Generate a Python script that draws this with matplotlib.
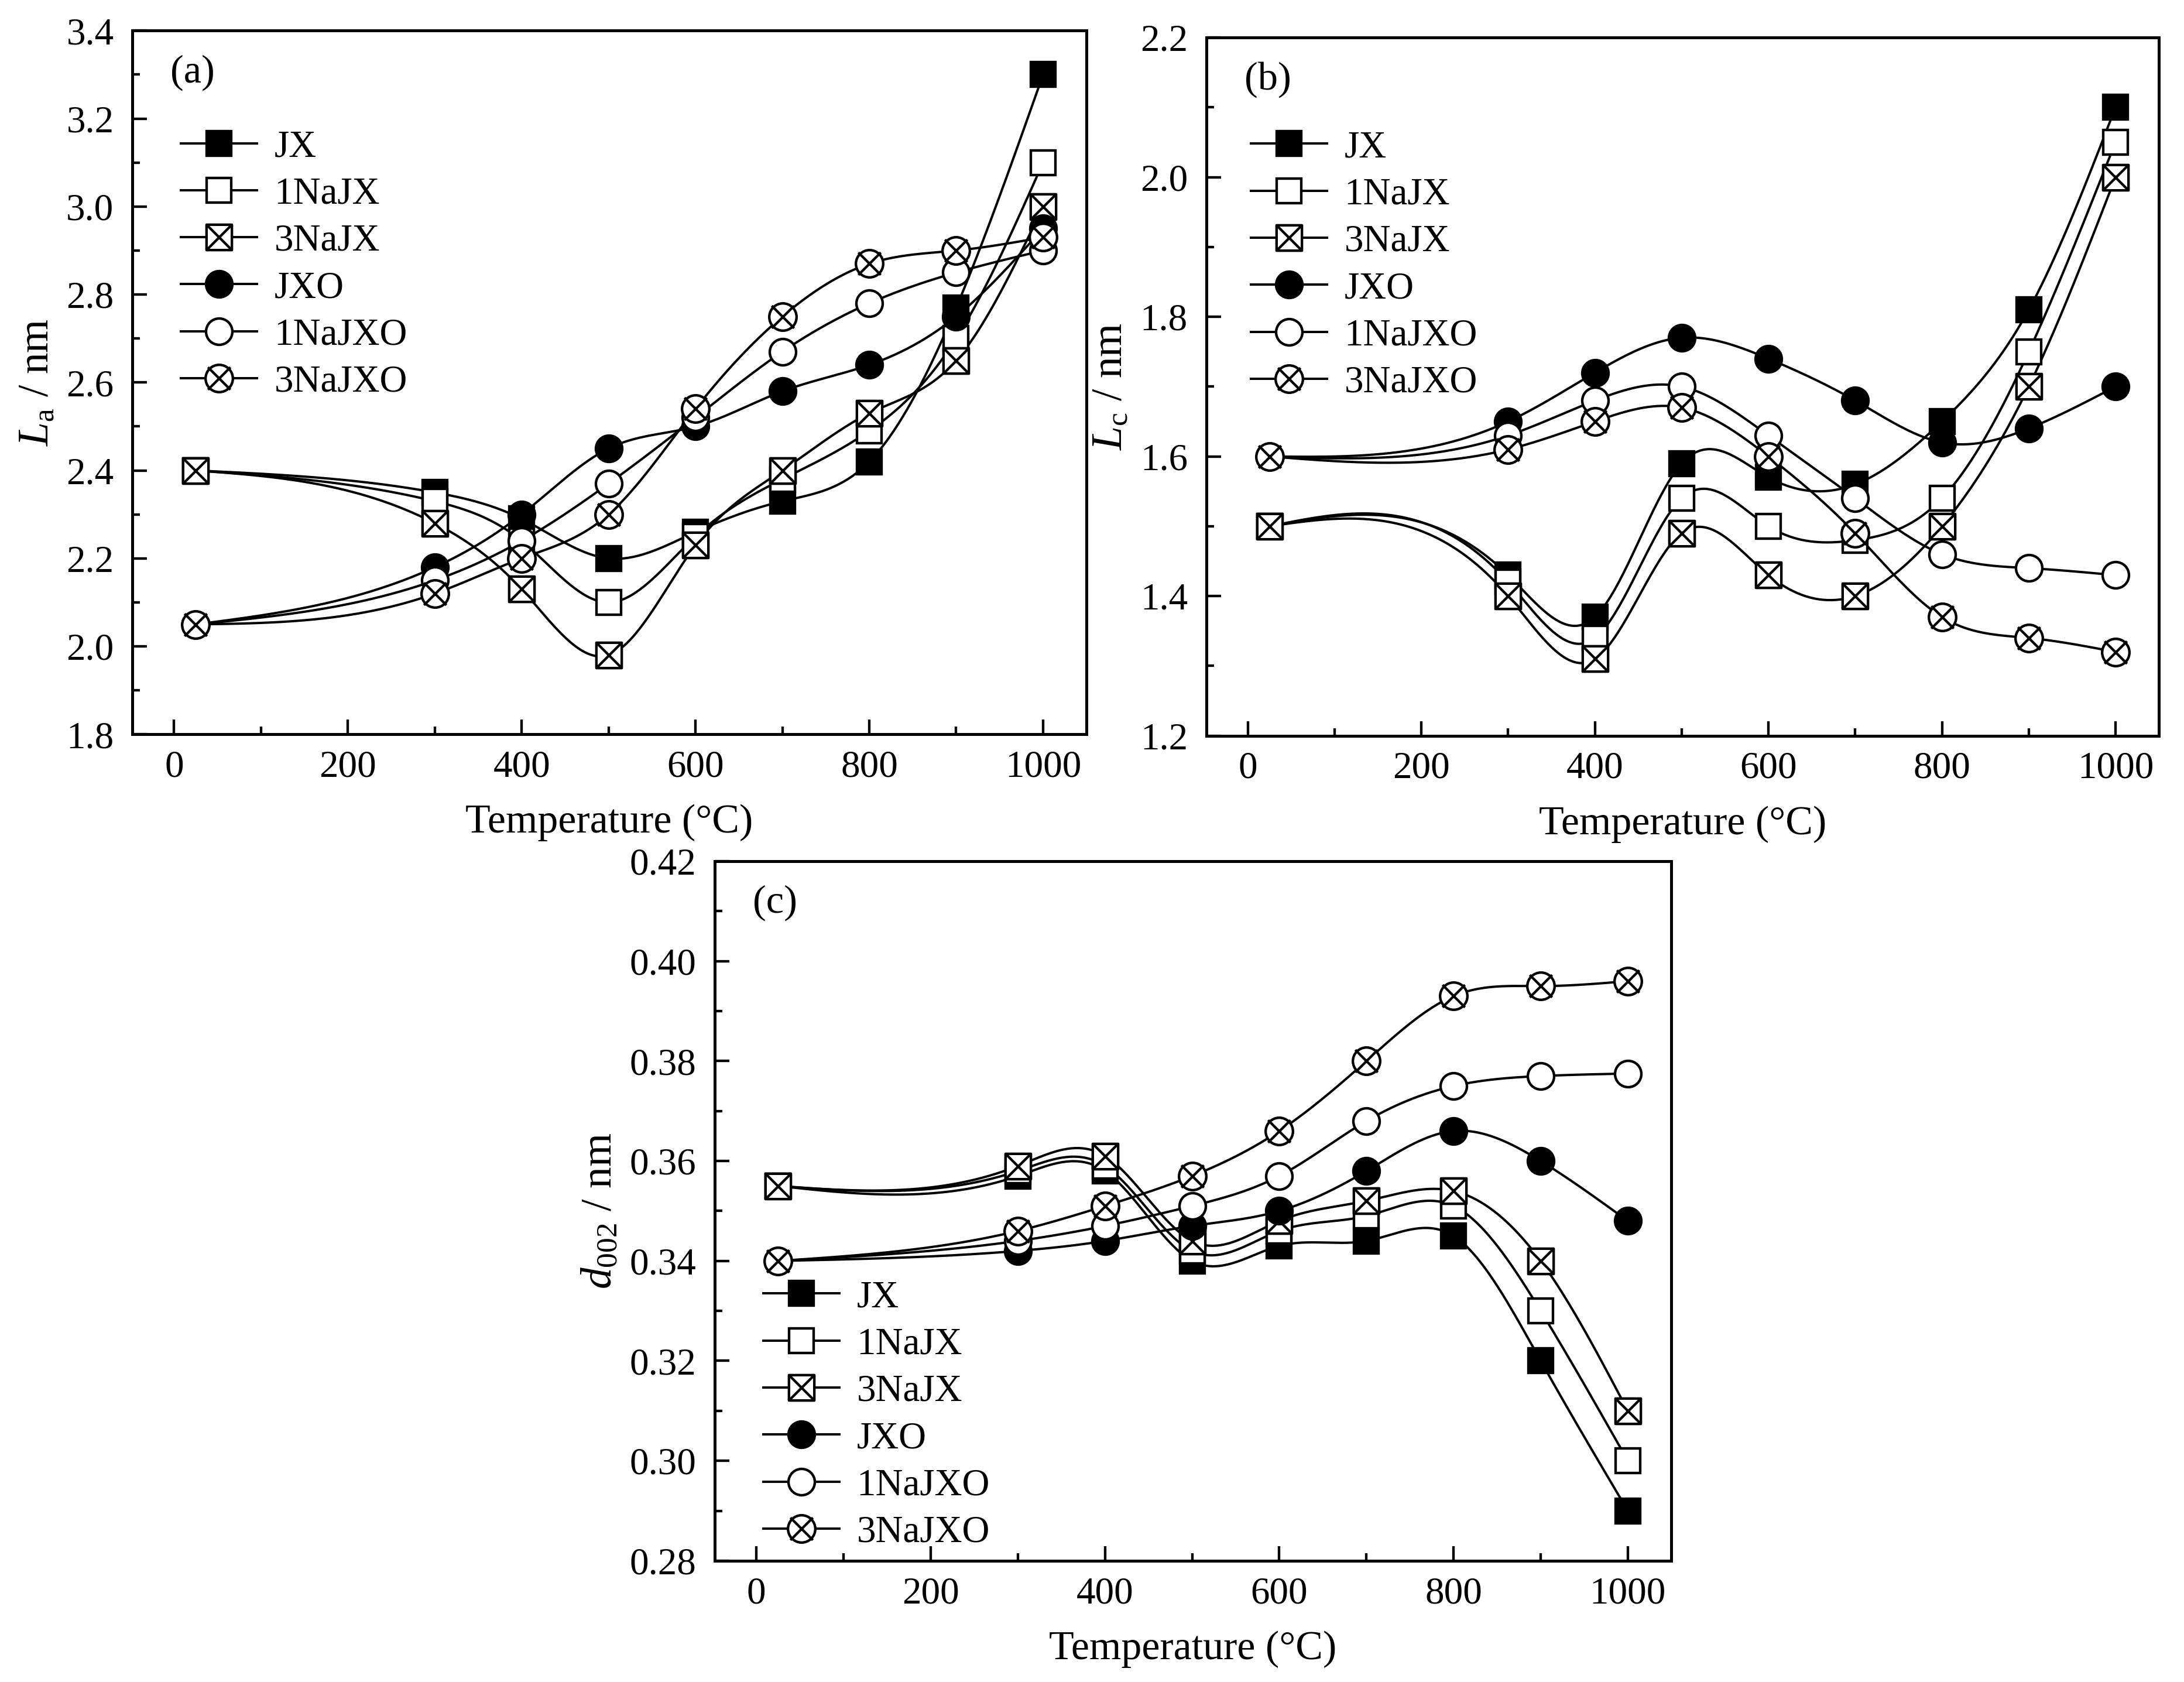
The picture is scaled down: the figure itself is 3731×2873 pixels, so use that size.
#!/usr/bin/env python3
"""
La, Lc and d002 of the six chars vs. temperature, three panels
"""

import numpy as np
import matplotlib
matplotlib.use('Agg')
import matplotlib.pyplot as plt
from matplotlib.path import Path
from matplotlib.lines import Line2D

plt.rcParams['font.family'] = ['Liberation Serif', 'DejaVu Serif']
plt.rcParams['mathtext.fontset'] = 'custom'
plt.rcParams['mathtext.rm'] = 'Liberation Serif'
plt.rcParams['mathtext.it'] = 'Liberation Serif:italic'

temperature = [25, 300, 400, 500, 600, 700, 800, 900, 1000]
samples = ['JX', '1NaJX', '3NaJX', 'JXO', '1NaJXO', '3NaJXO']

# (a) La / nm
la_jx      = [2.40, 2.35, 2.29, 2.20, 2.26, 2.33, 2.42, 2.77, 3.30]
la_1najx   = [2.40, 2.33, 2.24, 2.10, 2.25, 2.38, 2.49, 2.70, 3.10]
la_3najx   = [2.40, 2.28, 2.13, 1.98, 2.23, 2.40, 2.53, 2.65, 3.00]
la_jxo     = [2.05, 2.18, 2.30, 2.45, 2.50, 2.58, 2.64, 2.75, 2.95]
la_1najxo  = [2.05, 2.15, 2.24, 2.37, 2.52, 2.67, 2.78, 2.85, 2.90]
la_3najxo  = [2.05, 2.12, 2.20, 2.30, 2.54, 2.75, 2.87, 2.90, 2.93]

# (b) Lc / nm
lc_jx      = [1.50, 1.43, 1.37, 1.59, 1.57, 1.56, 1.65, 1.81, 2.10]
lc_1najx   = [1.50, 1.42, 1.34, 1.54, 1.50, 1.48, 1.54, 1.75, 2.05]
lc_3najx   = [1.50, 1.40, 1.31, 1.49, 1.43, 1.40, 1.50, 1.70, 2.00]
lc_jxo     = [1.60, 1.65, 1.72, 1.77, 1.74, 1.68, 1.62, 1.64, 1.70]
lc_1najxo  = [1.60, 1.63, 1.68, 1.70, 1.63, 1.54, 1.46, 1.44, 1.43]
lc_3najxo  = [1.60, 1.61, 1.65, 1.67, 1.60, 1.49, 1.37, 1.34, 1.32]

# (c) d002 / nm
d_jx       = [0.355, 0.357, 0.358, 0.340, 0.343, 0.344, 0.345, 0.320, 0.290]
d_1najx    = [0.355, 0.358, 0.359, 0.342, 0.346, 0.349, 0.351, 0.330, 0.300]
d_3najx    = [0.355, 0.359, 0.361, 0.344, 0.348, 0.352, 0.354, 0.340, 0.310]
d_jxo      = [0.340, 0.342, 0.344, 0.347, 0.350, 0.358, 0.366, 0.360, 0.348]
d_1najxo   = [0.340, 0.344, 0.347, 0.351, 0.357, 0.368, 0.375, 0.377, 0.3775]
d_3najxo   = [0.340, 0.346, 0.351, 0.357, 0.366, 0.380, 0.393, 0.395, 0.396]


def natural_spline(x, y, n=400):
    # smooth connecting curve through the points (like Origin's spline line)
    x = np.asarray(x, float)
    y = np.asarray(y, float)
    m = len(x)
    h = np.diff(x)
    A = np.zeros((m, m))
    b = np.zeros(m)
    A[0, 0] = A[-1, -1] = 1
    for i in range(1, m - 1):
        A[i, i - 1] = h[i - 1]
        A[i, i] = 2 * (h[i - 1] + h[i])
        A[i, i + 1] = h[i]
        b[i] = 6 * ((y[i + 1] - y[i]) / h[i] - (y[i] - y[i - 1]) / h[i - 1])
    M = np.linalg.solve(A, b)
    xs = np.linspace(x[0], x[-1], n)
    idx = np.clip(np.searchsorted(x, xs) - 1, 0, m - 2)
    x0, x1 = x[idx], x[idx + 1]
    hh = x1 - x0
    t0, t1 = x1 - xs, xs - x0
    ys = (M[idx] * t0**3 + M[idx + 1] * t1**3) / (6 * hh) \
        + (y[idx] / hh - M[idx] * hh / 6) * t0 \
        + (y[idx + 1] / hh - M[idx + 1] * hh / 6) * t1
    return xs, ys


# markers: square / square with X / circle / circle with X
sq = Path([(-1, -1), (1, -1), (1, 1), (-1, 1), (-1, -1)],
          [Path.MOVETO, Path.LINETO, Path.LINETO, Path.LINETO, Path.CLOSEPOLY])
cross_sq = Path([(-1, -1), (1, 1), (-1, 1), (1, -1)],
                [Path.MOVETO, Path.LINETO, Path.MOVETO, Path.LINETO])
box_x = Path.make_compound_path(sq, cross_sq)
cross_c = Path([(-0.82, -0.82), (0.82, 0.82), (-0.82, 0.82), (0.82, -0.82)],
               [Path.MOVETO, Path.LINETO, Path.MOVETO, Path.LINETO])
circ_x = Path.make_compound_path(Path.unit_circle(), cross_c)

styles = [
    dict(marker='s', mfc='black', ms=12.5),
    dict(marker='s', mfc='white', ms=12.5),
    dict(marker=box_x, mfc='white', ms=13),
    dict(marker='o', mfc='black', ms=13.5),
    dict(marker='o', mfc='white', ms=13.5),
    dict(marker=circ_x, mfc='white', ms=14),
]


def draw_panel(ax, series, ylim, major, minor, ylabel, tag, leg_anchor):
    for vals, st in zip(series, styles):
        xs, ys = natural_spline(temperature, vals)
        ax.plot(xs, ys, color='black', lw=1.2, zorder=2)
        ax.plot(temperature, vals, ls='none', color='black', mec='black',
                mew=1.3, zorder=3, **st)
    ax.set_xlim(-48, 1050)
    ax.set_ylim(*ylim)
    ax.set_xticks(np.arange(0, 1001, 200))
    ax.set_xticks(np.arange(100, 1001, 200), minor=True)
    ax.set_yticks(np.arange(ylim[0], ylim[1] + 1e-9, major))
    ax.set_yticks(np.arange(ylim[0], ylim[1] + 1e-9, minor), minor=True)
    if major < 0.1:
        ax.set_yticklabels([f'{v:.2f}' for v in ax.get_yticks()])
    else:
        ax.set_yticklabels([f'{v:.1f}' for v in ax.get_yticks()])
    ax.tick_params(direction='in', which='major', length=7.5, width=1.3,
                   labelsize=19.5, top=False, right=False)
    ax.tick_params(axis='x', which='major', pad=8)
    ax.tick_params(axis='y', which='major', pad=9.5)
    ax.tick_params(direction='in', which='minor', length=4, width=1.3,
                   top=False, right=False)
    for sp in ax.spines.values():
        sp.set_linewidth(1.5)
    ax.set_xlabel('Temperature (°C)', fontsize=21, labelpad=10)
    ax.set_ylabel(ylabel, fontsize=22, labelpad=4.5)
    ax.text(0.04, 0.94, tag, transform=ax.transAxes, fontsize=20.5,
            ha='left', va='center')

    handles = [Line2D([], [], color='black', lw=1.2, mec='black', mew=1.3, **st)
               for st in styles]
    ax.legend(handles, samples, loc='upper left', bbox_to_anchor=leg_anchor,
              frameon=False, fontsize=19.5, handlelength=2.0,
              handletextpad=0.45, labelspacing=0.32, borderaxespad=0,
              borderpad=0, numpoints=1)


def main():
    fig = plt.figure(figsize=(3731 / 240, 2873 / 240), dpi=240)

    ax_a = fig.add_axes([0.0606, 0.5634, 0.4369, 0.4184])
    ax_b = fig.add_axes([0.5523, 0.5626, 0.4362, 0.4151])
    ax_c = fig.add_axes([0.3272, 0.0721, 0.4381, 0.4159])

    draw_panel(ax_a, [la_jx, la_1najx, la_3najx, la_jxo, la_1najxo, la_3najxo],
               (1.8, 3.4), 0.2, 0.1, r'$L_\mathrm{a}$ / nm', '(a)',
               (0.051, 0.859))
    draw_panel(ax_b, [lc_jx, lc_1najx, lc_3najx, lc_jxo, lc_1najxo, lc_3najxo],
               (1.2, 2.2), 0.2, 0.1, r'$L_\mathrm{c}$ / nm', '(b)',
               (0.047, 0.867))
    draw_panel(ax_c, [d_jx, d_1najx, d_3najx, d_jxo, d_1najxo, d_3najxo],
               (0.28, 0.42), 0.02, 0.01, r'$d_\mathrm{002}$ / nm', '(c)',
               (0.051, 0.401))

    fig.savefig('out.png', dpi=240, facecolor='white')


if __name__ == "__main__":
    main()
